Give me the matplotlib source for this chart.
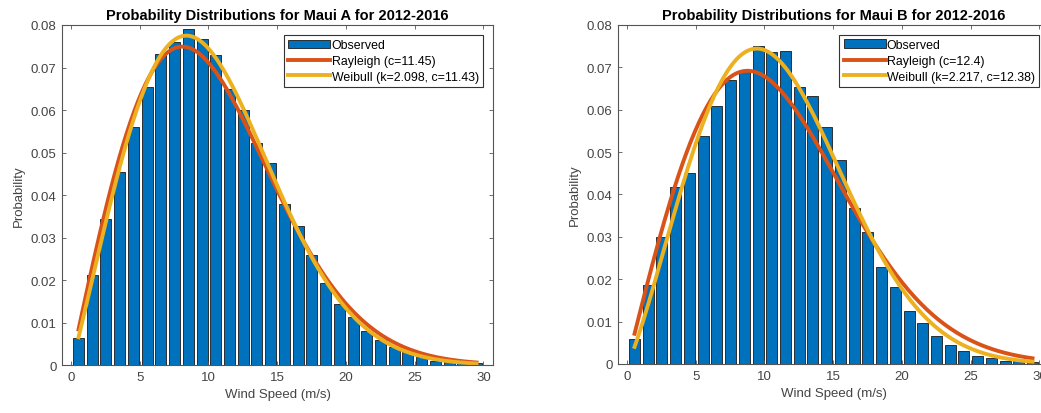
import numpy as np
import matplotlib
matplotlib.use('Agg')
import matplotlib.pyplot as plt

plt.rcParams['font.family'] = ['Liberation Sans', 'DejaVu Sans']

# Bin centres (m/s) and observed probabilities
bin_centers = np.linspace(0.55, 29.5, 30)

observed_a = [0.0064, 0.0212, 0.0344, 0.0453, 0.0561, 0.0653, 0.0732, 0.0759,
              0.0791, 0.0767, 0.0729, 0.0649, 0.0600, 0.0522, 0.0475, 0.0379,
              0.0326, 0.0259, 0.0192, 0.0144, 0.0112, 0.0081, 0.0059, 0.0042,
              0.0030, 0.0018, 0.0010, 0.0006, 0.0004, 0.0005]
observed_b = [0.0059, 0.0186, 0.0300, 0.0417, 0.0450, 0.0539, 0.0608, 0.0670,
              0.0692, 0.0751, 0.0736, 0.0738, 0.0654, 0.0632, 0.0560, 0.0482,
              0.0368, 0.0312, 0.0228, 0.0182, 0.0126, 0.0096, 0.0065, 0.0045,
              0.0030, 0.0020, 0.0013, 0.0008, 0.0006, 0.0004]

# Fitted parameters as printed in the legends
rayleigh_c = [11.45, 12.4]
weibull_k = [2.098, 2.217]
weibull_c = [11.43, 12.38]
titles = ['Probability Distributions for Maui A for 2012-2016',
          'Probability Distributions for Maui B for 2012-2016']


def weibull_pdf(x, k, c):
    # Rayleigh is the k=2 case
    return (k / c) * (x / c) ** (k - 1) * np.exp(-(x / c) ** k)


bar_color = '#0072BD'
rayleigh_color = '#D95319'
weibull_color = '#EDB120'
grey = '#555555'

fig = plt.figure(figsize=(10.41, 4.14), dpi=100)
axes_pos = [[0.0596, 0.1159, 0.414, 0.8213],
            [0.5937, 0.1184, 0.414, 0.8190]]

x_fit = np.linspace(bin_centers[0], bin_centers[-1], 200)

for i, observed in enumerate([observed_a, observed_b]):
    ax = fig.add_axes(axes_pos[i])
    bars = ax.bar(bin_centers, observed, width=0.8, color=bar_color,
                  edgecolor='#1a1a1a', linewidth=0.6, label='Observed')
    l1, = ax.plot(x_fit, weibull_pdf(x_fit, 2.0, rayleigh_c[i]),
                  color=rayleigh_color, lw=2.8,
                  label='Rayleigh (c=%g)' % rayleigh_c[i])
    l2, = ax.plot(x_fit, weibull_pdf(x_fit, weibull_k[i], weibull_c[i]),
                  color=weibull_color, lw=2.8,
                  label='Weibull (k=%g, c=%g)' % (weibull_k[i], weibull_c[i]))

    ax.set_xlim(-0.65, 30.7)
    ax.set_ylim(0, 0.08)
    ax.set_xticks([0, 5, 10, 15, 20, 25, 30])
    ax.set_yticks(np.arange(0, 0.081, 0.01))
    ax.set_yticklabels(['0', '0.01', '0.02', '0.03', '0.04', '0.05',
                        '0.06', '0.07', '0.08'])
    ax.tick_params(direction='in', length=3, width=0.6, top=True, right=True,
                   labelsize=9.5, colors=grey, labelcolor='#444444', pad=4)
    for s in ax.spines.values():
        s.set_color(grey)
        s.set_linewidth(0.8)

    ax.set_title(titles[i], fontsize=10.5, fontweight='bold', pad=4)
    ax.set_xlabel('Wind Speed (m/s)', fontsize=9.5, color='#444444', labelpad=4)
    ax.set_ylabel('Probability', fontsize=9.5, color='#444444', labelpad=4)

    leg = ax.legend(handles=[bars, l1, l2], loc='upper right', fontsize=8.9,
                    handlelength=3.4, handletextpad=0.1, borderpad=0.35,
                    labelspacing=0.3, borderaxespad=0.8, fancybox=False,
                    framealpha=1)
    leg.get_frame().set_edgecolor('#333333')
    leg.get_frame().set_linewidth(0.8)

fig.savefig('out.png', dpi=100)
